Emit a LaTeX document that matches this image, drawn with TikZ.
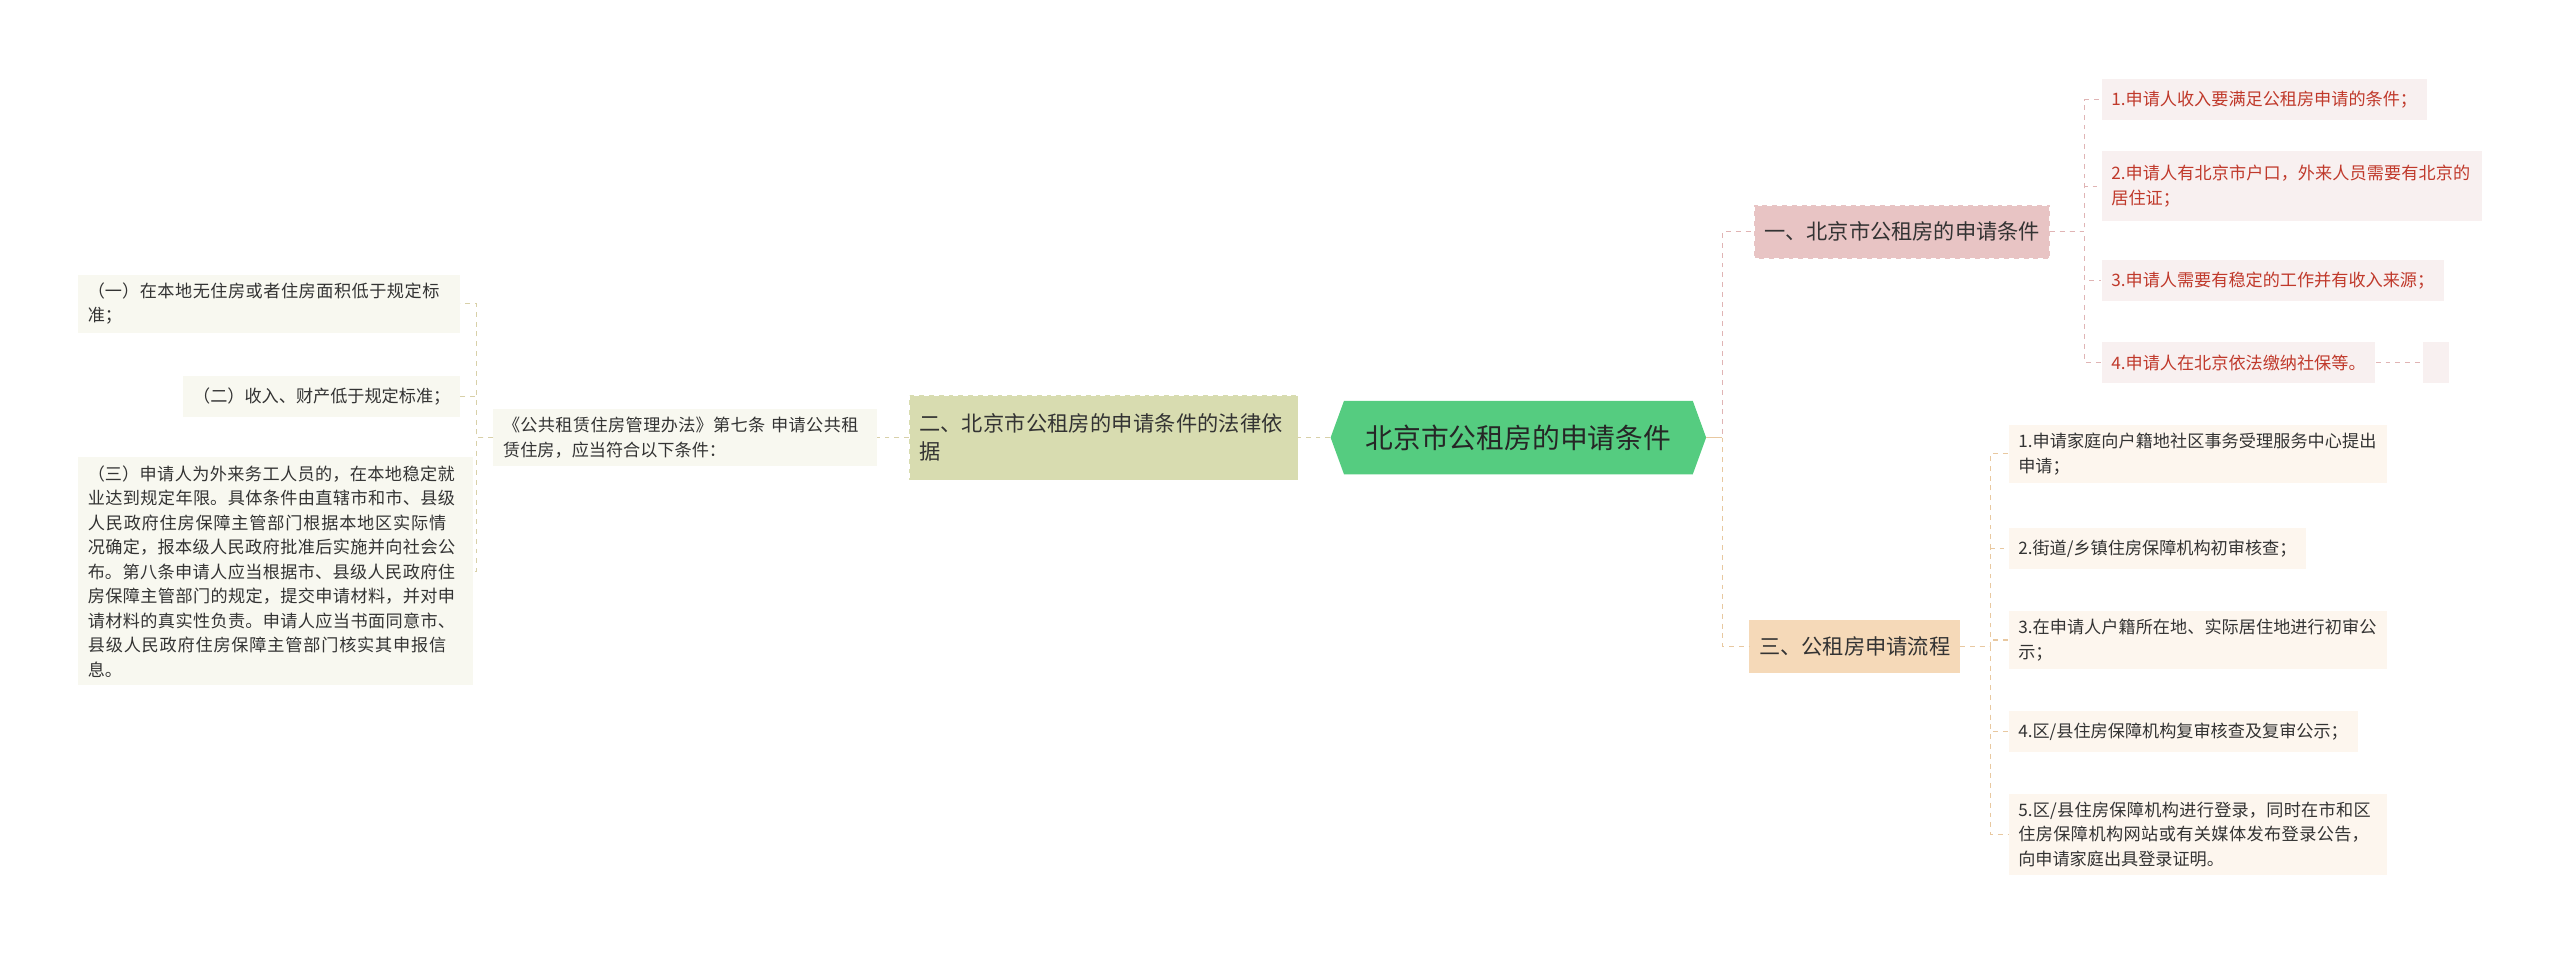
\documentclass[tikz,border=0pt]{standalone}
\usepackage{fontspec}
\setmainfont{Noto Sans CJK SC}
\XeTeXlinebreaklocale "zh"
\XeTeXlinebreakskip=0pt plus 1pt
\usetikzlibrary{shapes.symbols}
\definecolor{rootg}{HTML}{55CC80}
\definecolor{pinkA}{HTML}{E8C4C4}
\definecolor{pinkL}{HTML}{F8F0F0}
\definecolor{redT}{HTML}{C0392B}
\definecolor{peach}{HTML}{F5D9B8}
\definecolor{peachL}{HTML}{FDF6EE}
\definecolor{olive}{HTML}{D8DCB0}
\definecolor{oliveL}{HTML}{F8F8F0}
\definecolor{lnP}{HTML}{E0B4B4}
\definecolor{lnB}{HTML}{E8C8A0}
\definecolor{lnO}{HTML}{D8D0A8}
\begin{document}
\begin{tikzpicture}[x=1pt,y=1pt,
  leaf/.style={anchor=west,inner xsep=6pt,inner ysep=5pt,font=\fontsize{10.5}{15}\selectfont,align=left},
  rleaf/.style={leaf,fill=pinkL,text=redT},
  bleaf/.style={leaf,fill=peachL,text=black!80},
  oleaf/.style={leaf,fill=oliveL,text=black!80},
  conn/.style={dashed,line width=0.7pt}]
\useasboundingbox (0,0) rectangle (1568,-587);
% root
\node[signal,signal to=east and west,signal pointer angle=140,fill=rootg,minimum height=45pt,minimum width=230pt,font=\fontsize{17}{20}\selectfont,text=black!85] (root) at (930,-268) {北京市公租房的申请条件};
% A1
\node[fill=pinkA,draw=white,dashed,minimum height=33pt,inner xsep=6pt,font=\fontsize{13}{16}\selectfont,text=black!80] (A1) at (1165,-142) {一、北京市公租房的申请条件};
\node[fill=peach,minimum height=32pt,inner xsep=6pt,font=\fontsize{13}{16}\selectfont,text=black!80] (A3) at (1136,-396) {三、公租房申请流程};
\node[fill=olive,draw=white,dashed,minimum height=52pt,text width=226pt,inner xsep=6pt,align=left,font=\fontsize{13}{17}\selectfont,text=black!80] (L) at (676,-268) {二、北京市公租房的申请条件的法律依据};
\node[oleaf,text width=223pt] (LL) at (302,-268) {《公共租赁住房管理办法》第七条 申请公共租赁住房，应当符合以下条件：};
% A1 children
\node[rleaf,minimum height=25pt] (c1) at (1287,-61) {1.申请人收入要满足公租房申请的条件；};
\node[rleaf,text width=221pt,minimum height=43pt] (c2) at (1287,-114) {2.申请人有北京市户口，外来人员需要有北京的居住证；};
\node[rleaf,minimum height=25pt] (c3) at (1287,-172) {3.申请人需要有稳定的工作并有收入来源；};
\node[rleaf,minimum height=25pt] (c4) at (1287,-222) {4.申请人在北京依法缴纳社保等。};
\node[fill=pinkL,minimum width=16pt,minimum height=25pt,anchor=west] (c4x) at (1484,-222) {};
% A3 children
\node[bleaf,text width=220pt] (b1) at (1230,-278) {1.申请家庭向户籍地社区事务受理服务中心提出申请；};
\node[bleaf,minimum height=25pt] (b2) at (1230,-336) {2.街道/乡镇住房保障机构初审核查；};
\node[bleaf,text width=220pt] (b3) at (1230,-392) {3.在申请人户籍所在地、实际居住地进行初审公示；};
\node[bleaf,minimum height=25pt] (b4) at (1230,-448) {4.区/县住房保障机构复审核查及复审公示；};
\node[bleaf,text width=220pt] (b5) at (1230,-511) {5.区/县住房保障机构进行登录，同时在市和区住房保障机构网站或有关媒体发布登录公告，向申请家庭出具登录证明。};
% left children
\node[oleaf,text width=222pt,anchor=east] (d1) at (282,-186) {（一）在本地无住房或者住房面积低于规定标准；};
\node[oleaf,anchor=east,minimum height=25pt] (d2) at (282,-243) {（二）收入、财产低于规定标准；};
\node[oleaf,text width=230pt,anchor=east] (d3) at (290,-350) {（三）申请人为外来务工人员的，在本地稳定就业达到规定年限。具体条件由直辖市和市、县级人民政府住房保障主管部门根据本地区实际情况确定，报本级人民政府批准后实施并向社会公布。第八条申请人应当根据市、县级人民政府住房保障主管部门的规定，提交申请材料，并对申请材料的真实性负责。申请人应当书面同意市、县级人民政府住房保障主管部门核实其申报信息。};
% connectors
\draw[conn,lnP] (root.east) -- (1055,-268) |- (A1.west);
\draw[conn,lnB] (1055,-268) |- (A3.west);
\draw[lnB,line width=0.8pt] (root.east) -- (1055,-268);
\draw[conn,lnO] (root.west) -- (L.east);
\draw[conn,lnO] (L.west) -- (LL.east);
\foreach \n in {c1,c2,c3,c4} \draw[conn,lnP] (A1.east) -- (1277,-142) |- (\n.west);
\draw[conn,lnP] (c4.east) -- (c4x.west);
\foreach \n in {b1,b2,b3,b4,b5} \draw[conn,lnB] (A3.east) -- (1219,-396) |- (\n.west);
\foreach \n in {d1,d2,d3} \draw[conn,lnO] (LL.west) -- (292,-268) |- (\n.east);
\end{tikzpicture}
\end{document}
